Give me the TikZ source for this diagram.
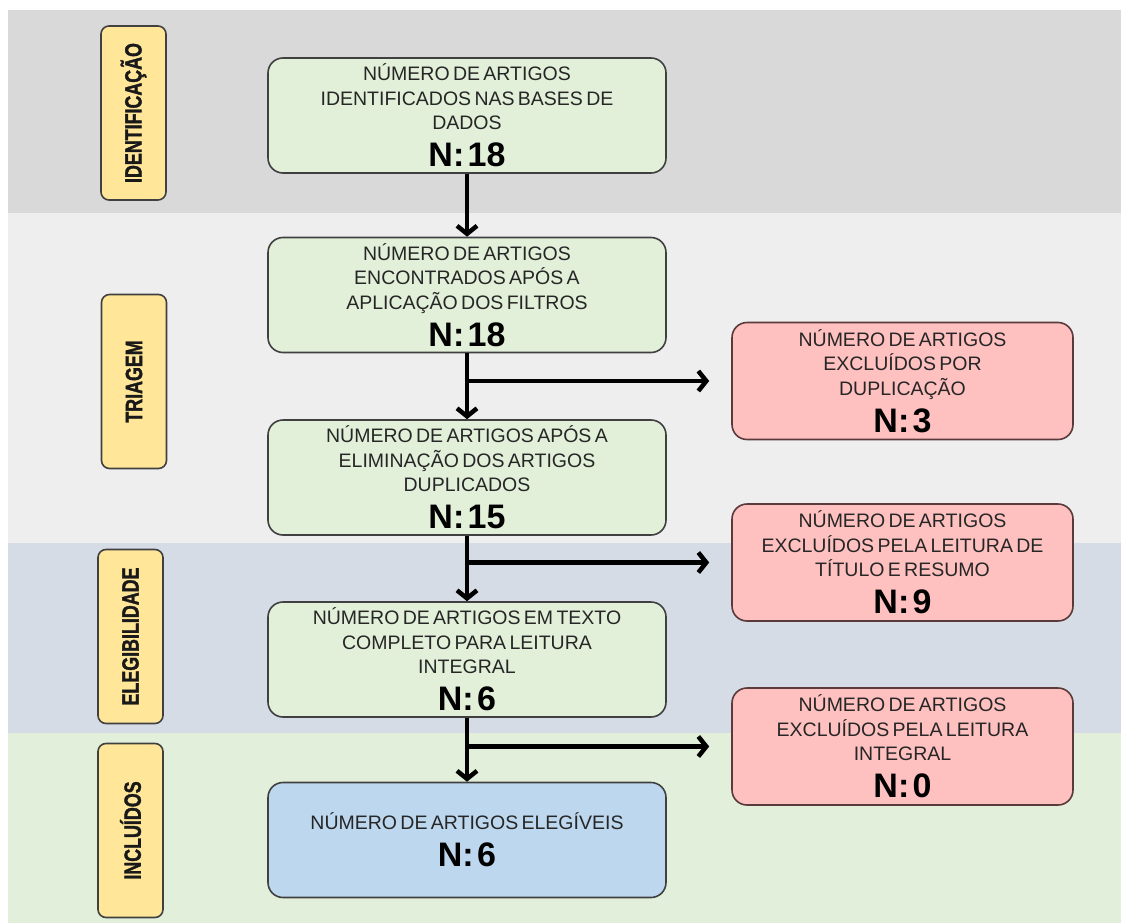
\documentclass[tikz,border=0pt]{standalone}
\usepackage{fontspec}
\setmainfont{Liberation Sans}
\newfontfamily\labelfont[FakeStretch=0.76,BoldFeatures={FakeBold=1.5}]{Liberation Sans}
\usepackage{tikz}
\usetikzlibrary{arrows.meta,positioning}
\tikzset{>={Straight Barb[length=8pt,width=20pt]}}

\definecolor{bandA}{HTML}{D9D9D9}
\definecolor{bandB}{HTML}{EEEEEE}
\definecolor{bandC}{HTML}{D6DCE5}
\definecolor{bandD}{HTML}{E2EFDA}
\definecolor{stageyellow}{HTML}{FFE699}
\definecolor{stepgreen}{HTML}{E2EFD9}
\definecolor{stepred}{HTML}{FFC0C0}
\definecolor{stepblue}{HTML}{BDD7EE}
\definecolor{redline}{HTML}{5A3A3A}

\newcommand{\boxtext}[2]{{\fontsize{19.5}{24.5}\selectfont #1\par}\vspace{2pt}{\fontsize{34}{35}\selectfont\bfseries\color{black}#2\par}}

\tikzset{
  stage/.style={draw=black!75, line width=1.6pt, fill=stageyellow, rounded corners=8pt,
    rotate=90, minimum width=174pt, minimum height=65pt, inner sep=0pt,
    font=\labelfont\bfseries\fontsize{23.5}{23.5}\selectfont, text=black!90},
  flowbox/.style={draw=black!75, line width=1.6pt, fill=stepgreen, rounded corners=15pt,
    text width=398pt, minimum height=115pt, align=center, inner sep=0pt, text=black!85},
  exclbox/.style={flowbox, fill=stepred, draw=redline, text width=341pt, minimum height=117pt},
}

\begin{document}
\begin{tikzpicture}[x=1pt,y=1pt]
    \useasboundingbox (0,0) rectangle (1121,-923);
    % faixas de fundo
    \fill[bandA] (8,-10) rectangle (1121,-213);
    \fill[bandB] (8,-213) rectangle (1121,-543);
    \fill[bandC] (8,-543) rectangle (1121,-733);
    \fill[bandD] (8,-733) rectangle (1121,-923);

    % etapas
    \node [stage] (sid) at (133.5,-113) {IDENTIFICAÇÃO};
    \node [stage] (stri) at (134,-381.5) {TRIAGEM};
    \node [stage] (sele) at (130.5,-636.5) {ELEGIBILIDADE};
    \node [stage] (sinc) at (130.5,-830.5) {INCLUÍDOS};

    % fluxo principal
    \node [flowbox] (ident) at (467,-115.5) {\boxtext{NÚMERO DE ARTIGOS\\IDENTIFICADOS NAS BASES DE\\DADOS}{N: 18}};
    \node [flowbox] (filt) at (467,-295) {\boxtext{NÚMERO DE ARTIGOS\\ENCONTRADOS APÓS A\\APLICAÇÃO DOS FILTROS}{N: 18}};
    \node [flowbox] (dedup) at (467,-477.5) {\boxtext{NÚMERO DE ARTIGOS APÓS A\\ELIMINAÇÃO DOS ARTIGOS\\DUPLICADOS}{N: 15}};
    \node [flowbox] (full) at (467,-659.5) {\boxtext{NÚMERO DE ARTIGOS EM TEXTO\\COMPLETO PARA LEITURA\\INTEGRAL}{N: 6}};
    \node [flowbox, fill=stepblue] (elig) at (467,-840) {\boxtext{NÚMERO DE ARTIGOS ELEGÍVEIS}{N: 6}};

    % excluidos
    \node [exclbox] (dup) at (902.5,-381) {\boxtext{NÚMERO DE ARTIGOS\\EXCLUÍDOS POR\\DUPLICAÇÃO}{N: 3}};
    \node [exclbox] (tit) at (902.5,-562.5) {\boxtext{NÚMERO DE ARTIGOS\\EXCLUÍDOS PELA LEITURA DE\\TÍTULO E RESUMO}{N: 9}};
    \node [exclbox] (intg) at (902.5,-746.5) {\boxtext{NÚMERO DE ARTIGOS\\EXCLUÍDOS PELA LEITURA\\INTEGRAL}{N: 0}};

    \begin{scope}[line width=4.5pt, color=black]
    \draw[->] (ident) to (filt);
    \draw[->] (filt) to (dedup);
    \draw[->] (dedup) to (full);
    \draw[->] (full) to (elig);
    \draw[->, shorten >=22pt] (filt.south |- dup.west) to (dup.west);
    \draw[->, shorten >=22pt] (dedup.south |- tit.west) to (tit.west);
    \draw[->, shorten >=22pt] (full.south |- intg.west) to (intg.west);
    \end{scope}

\end{tikzpicture}
\end{document}
